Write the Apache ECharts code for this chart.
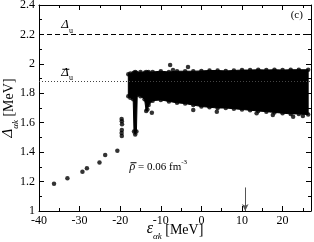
<!DOCTYPE html>
<html><head><meta charset="utf-8">
<script src="https://cdn.jsdelivr.net/npm/echarts@6/dist/echarts.min.js"></script>
<style>html,body{margin:0;padding:0;background:#fff}#c{width:314px;height:242px}</style>
</head><body><div id="c"></div>
<script>
// ---- data ----
const xTicks = [-40, -30, -20, -10, 0, 10, 20];
const yTicks = [1, 1.2, 1.4, 1.6, 1.8, 2, 2.2, 2.4];
// isolated deep-hole states
const lowX = [-36.3, -33.0, -29.3, -28.2, -25.1, -23.7, -20.7];
const lowY = [1.186, 1.222, 1.267, 1.29, 1.33, 1.38, 1.41];
// small cluster near -20 MeV
const clusterX = [-19.6, -19.65, -19.6, -19.55, -19.6, -19.65];
const clusterY = [1.51, 1.53, 1.55, 1.59, 1.61, 1.625];
// dense band of states: x, upper edge, lower edge
const bandX      = [-18.0, -17.5, -16.8, -16.6, -16.3, -16.0, -15.8, -15.0, -14.0, -13.6, -13.3, -13.0, -12.0, -10.0, -8.0, -6.0, -4.0, -2.0, 0.0, 2.0, 4.0, 6.0, 8.0, 10.0, 12.0, 14.0, 16.0, 18.0, 20.0, 22.0, 24.0, 26.3];
const bandTop    = [1.93, 1.935, 1.935, 1.94, 1.945, 1.94, 1.935, 1.945, 1.94, 1.945, 1.94, 1.945, 1.945, 1.95, 1.945, 1.95, 1.95, 1.95, 1.952, 1.955, 1.955, 1.952, 1.955, 1.958, 1.958, 1.96, 1.958, 1.96, 1.958, 1.96, 1.96, 1.96];
const bandBottom = [1.78, 1.77, 1.76, 1.54, 1.52, 1.54, 1.79, 1.78, 1.76, 1.68, 1.69, 1.72, 1.75, 1.755, 1.745, 1.735, 1.73, 1.72, 1.71, 1.705, 1.70, 1.70, 1.695, 1.69, 1.685, 1.68, 1.675, 1.67, 1.665, 1.66, 1.66, 1.655];
// scattered points just outside the band
const outX = [-7.7, -3.3, -7.0, -12.2, -2.0, 3.8, 13.6, 17.6, 22.6, 25.0];
const outY = [1.993, 1.979, 1.958, 1.668, 1.687, 1.675, 1.665, 1.653, 1.641, 1.646];
// reference levels and arrow
const deltaU = 2.2;
const deltaUbar = 1.875;
const arrowX = 10.8;
const arrowFrom = 1.16;
const arrowTo = 1.0;

const serif = 'Liberation Serif';
const black = '#000';

function pairs(xs, ys) { return xs.map((x, i) => [x, ys[i]]); }

const chart = echarts.init(document.getElementById('c'), null, {renderer: 'canvas'});

const baseX = {
  type: 'value', min: -40, max: 27, splitLine: {show: false},
  axisLine: {show: true, onZero: false, lineStyle: {color: black, width: 1}}
};
const baseY = {
  type: 'value', min: 1, max: 2.4, splitLine: {show: false},
  axisLine: {show: true, onZero: false, lineStyle: {color: black, width: 1}}
};

const option = {
  animation: false,
  grid: {left: 39, right: 3, top: 5, bottom: 31, containLabel: false, outerBoundsMode: 'none'},
  xAxis: [
    Object.assign({}, baseX, {
      position: 'bottom', interval: 10,
      axisTick: {show: true, inside: true, length: 5, lineStyle: {color: black}},
      axisLabel: {show: true, margin: 4, color: black, fontFamily: serif, fontSize: 12, showMaxLabel: false,
        formatter: v => (xTicks.indexOf(v) >= 0 ? String(v) : '')},
      name: '{e|ε}{s|αk}{u| [MeV]}', nameLocation: 'middle', nameGap: 10, nameMoveOverlap: false,
      nameTextStyle: {color: black, fontFamily: serif, rich: {
        e: {fontSize: 16, fontStyle: 'italic', fontFamily: serif, color: black, lineHeight: 16, verticalAlign: 'bottom'},
        s: {fontSize: 9, fontStyle: 'italic', fontFamily: serif, color: black, lineHeight: 16, verticalAlign: 'bottom', padding: [0, 0, -4, 0]},
        u: {fontSize: 14, fontFamily: serif, color: black, lineHeight: 16, verticalAlign: 'bottom'}
      }}
    }),
    Object.assign({}, baseX, {
      position: 'bottom', interval: 5, axisLine: {show: false},
      axisTick: {show: true, inside: true, length: 3, lineStyle: {color: black}},
      axisLabel: {show: false}
    }),
    Object.assign({}, baseX, {
      position: 'top', interval: 10,
      axisTick: {show: true, inside: true, length: 5, lineStyle: {color: black}},
      axisLabel: {show: false}
    }),
    Object.assign({}, baseX, {
      position: 'top', interval: 5, axisLine: {show: false},
      axisTick: {show: true, inside: true, length: 3, lineStyle: {color: black}},
      axisLabel: {show: false}
    })
  ],
  yAxis: [
    Object.assign({}, baseY, {
      position: 'left', interval: 0.2,
      axisTick: {show: true, inside: true, length: 5, lineStyle: {color: black}},
      minorTick: {show: true, splitNumber: 2, length: 3, lineStyle: {color: black}},
      axisLabel: {show: true, margin: 4, color: black, fontFamily: serif, fontSize: 12,
        formatter: v => { const r = Math.round(v * 10) / 10; return yTicks.indexOf(r) >= 0 ? String(r) : ''; }},
      name: '{d|Δ}{s|αk}{u| [MeV]}', nameLocation: 'middle', nameGap: 23, nameRotate: 90, nameMoveOverlap: false,
      nameTextStyle: {color: black, fontFamily: serif, rich: {
        d: {fontSize: 15, fontStyle: 'italic', fontFamily: serif, color: black, lineHeight: 16, verticalAlign: 'bottom'},
        s: {fontSize: 9, fontStyle: 'italic', fontFamily: serif, color: black, lineHeight: 16, verticalAlign: 'bottom', padding: [0, 0, -4, 0]},
        u: {fontSize: 14, fontFamily: serif, color: black, lineHeight: 16, verticalAlign: 'bottom'}
      }}
    }),
    Object.assign({}, baseY, {
      position: 'right', interval: 0.2,
      axisTick: {show: true, inside: true, length: 5, lineStyle: {color: black}},
      minorTick: {show: true, splitNumber: 2, length: 3, lineStyle: {color: black}},
      axisLabel: {show: false}
    })
  ],
  series: [
    {
      type: 'line', data: [], xAxisIndex: 0, yAxisIndex: 0, silent: true,
      markLine: {
        silent: true, symbol: ['none', 'none'], label: {show: false}, animation: false,
        data: [
          {yAxis: deltaU, lineStyle: {color: black, width: 1, type: [5, 3]}},
          {yAxis: deltaUbar, lineStyle: {color: '#444', width: 1, type: [1, 2]}}
        ]
      }
    },
    {
      type: 'custom', xAxisIndex: 0, yAxisIndex: 0, silent: true, z: 3,
      data: bandX.map((x, i) => [x, bandTop[i], bandBottom[i]]),
      encode: {x: 0, y: [1, 2]},
      renderItem: function (params, api) {
        if (params.dataIndex !== 0) return null;
        const pts = [];
        for (let i = 0; i < bandX.length; i++) pts.push(api.coord([bandX[i], bandTop[i]]));
        for (let i = bandX.length - 1; i >= 0; i--) pts.push(api.coord([bandX[i], bandBottom[i]]));
        return {type: 'polygon', shape: {points: pts}, style: {fill: black, stroke: black, lineWidth: 1}};
      }
    },
    {
      type: 'scatter', symbol: 'circle', symbolSize: 4.5, itemStyle: {color: black}, z: 4, silent: true,
      data: pairs(bandX, bandTop).concat(pairs(bandX, bandBottom))
    },
    {
      type: 'scatter', symbol: 'circle', symbolSize: 4.5, itemStyle: {color: black}, z: 4, silent: true,
      data: pairs(lowX, lowY).concat(pairs(clusterX, clusterY)).concat(pairs(outX, outY))
    },
    {
      type: 'line', data: [], silent: true,
      markLine: {
        silent: true, symbol: ['none', 'arrow'], symbolSize: [5, 7], label: {show: false}, animation: false,
        lineStyle: {color: '#555', width: 1, type: 'solid'},
        data: [[{coord: [arrowX, arrowFrom]}, {coord: [arrowX, arrowTo]}]]
      }
    }
  ]
};
chart.setOption(option);

const px = (x, y) => chart.convertToPixel({xAxisIndex: 0, yAxisIndex: 0}, [x, y]);
const pU = px(-34.5, deltaU);
const pUb = px(-34.5, deltaUbar);
const pRho = px(-17.7, 1.26);
const pC = px(22.0, 2.33);
const italic = {fontStyle: 'italic', fontFamily: serif, fill: black};
chart.setOption({
  graphic: [
    {type: 'text', x: pU[0], y: pU[1] - 3, style: {text: '{d|Δ}{s|u}', textVerticalAlign: 'bottom',
      rich: {d: Object.assign({fontSize: 13, lineHeight: 14, verticalAlign: 'bottom'}, italic),
             s: {fontSize: 8, fontFamily: serif, fill: black, lineHeight: 14, verticalAlign: 'bottom', padding: [0, 0, -3, 0]}}}},
    {type: 'text', x: pUb[0], y: pUb[1] - 3, style: {text: '{d|Δ}{s|u}', textVerticalAlign: 'bottom',
      rich: {d: Object.assign({fontSize: 13, lineHeight: 14, verticalAlign: 'bottom'}, italic),
             s: {fontSize: 8, fontFamily: serif, fill: black, lineHeight: 14, verticalAlign: 'bottom', padding: [0, 0, -3, 0]}}}},
    {type: 'line', shape: {x1: pUb[0] + 1, y1: pUb[1] - 13, x2: pUb[0] + 8, y2: pUb[1] - 13}, style: {stroke: black, lineWidth: 1}},
    {type: 'text', x: pRho[0], y: pRho[1], style: {text: '{r|ρ}{n| = 0.06 fm}{p|-3}', textVerticalAlign: 'bottom',
      rich: {r: Object.assign({fontSize: 12, lineHeight: 14, verticalAlign: 'bottom'}, italic),
             n: {fontSize: 11, fontFamily: serif, fill: black, lineHeight: 14, verticalAlign: 'bottom'},
             p: {fontSize: 7, fontFamily: serif, fill: black, lineHeight: 14, verticalAlign: 'top'}}}},
    {type: 'line', shape: {x1: pRho[0] + 1, y1: pRho[1] - 10, x2: pRho[0] + 7, y2: pRho[1] - 10}, style: {stroke: black, lineWidth: 1}},
    {type: 'text', x: pC[0], y: pC[1], style: {text: '(c)', fontSize: 11, fontFamily: serif, fill: black, textVerticalAlign: 'middle'}}
  ]
});
</script></body></html>
